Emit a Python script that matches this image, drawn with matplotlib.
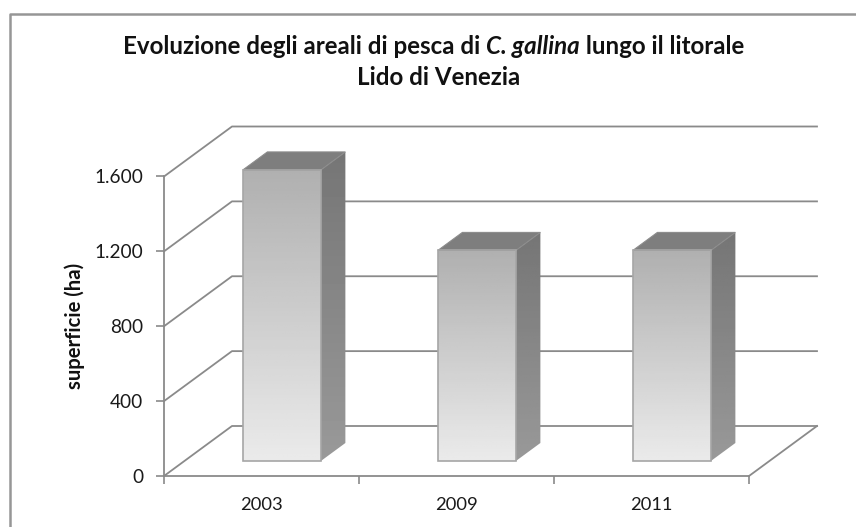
import numpy as np
import matplotlib
matplotlib.use('Agg')
import matplotlib.pyplot as plt
from matplotlib.patches import Polygon

plt.rcParams['font.family'] = ['Lato', 'DejaVu Sans']

years = ['2003', '2009', '2011']
superficie = [1555, 1125, 1125]
yticks = [0, 400, 800, 1200, 1600]
yticklabels = ['0', '400', '800', '1.200', '1.600']
ylabel = 'superficie (ha)'

W, H = 856, 527
grey = '#8a8a8a'

# oblique projection of the floor depth, in data units
depth_x = 68 / 195
depth_y = 50 / (299.5 / 1600)
bar_w = 0.4
bar_front = 0.30
bar_back = 0.66


def proj(x, v, d):
    return x + d * depth_x, v + d * depth_y


fig = plt.figure(figsize=(W / 100, H / 100), dpi=100)
ax = fig.add_axes([164 / W, (H - 476) / H, 585 / W, 299.5 / H])
ax.set_xlim(0, 3)
ax.set_ylim(0, 1600)
ax.patch.set_visible(False)

# outer chart frame (only left and top are inside the crop)
fig.add_artist(plt.Line2D([10 / W, 10 / W, 1], [0, 1 - 14 / H, 1 - 14 / H], color='#969696', lw=1.8))

for s in ['top', 'right']:
    ax.spines[s].set_visible(False)
for s in ['left', 'bottom']:
    ax.spines[s].set_color(grey)
    ax.spines[s].set_linewidth(1.3)

ax.set_yticks(yticks)
ax.set_yticklabels(yticklabels, fontsize=13.7, color='#1a1a1a')
ax.set_xticks([0, 1, 2, 3])
ax.set_xticklabels([])
ax.set_xticks(np.arange(len(years)) + 0.5, labels=years, minor=True, fontsize=13.2, color='#1a1a1a')
ax.tick_params(axis='both', which='major', length=5.5, width=1.2, color=grey)
ax.tick_params(axis='y', which='major', pad=9.5)
ax.tick_params(axis='x', which='minor', length=0, pad=15)
ax.set_ylabel(ylabel, fontsize=14.6, fontweight='bold', color='#111111')
ax.yaxis.set_label_coords(-0.135, 0.5)

# walls and floor
for v in yticks:
    bx, by = proj(0, v, 1)
    ex, ey = proj(3, v, 1)
    ax.plot([0, bx, ex], [v, by, ey], color=grey, lw=1.3, clip_on=False, zorder=1)
fx, fy = proj(3, 0, 1)
ax.plot([3, fx], [0, fy], color=grey, lw=1.3, clip_on=False, zorder=1)

# bars
for i, val in enumerate(superficie):
    x0 = i + 0.5 - bar_w / 2
    x1 = i + 0.5 + bar_w / 2
    a = proj(x0, 0, bar_front)
    b = proj(x1, 0, bar_front)
    c = proj(x1, val, bar_front)
    d = proj(x0, val, bar_front)
    e = proj(x1, 0, bar_back)
    f = proj(x1, val, bar_back)
    g = proj(x0, val, bar_back)

    grad = np.linspace(0.69, 0.92, 100).reshape(-1, 1)
    ax.imshow(grad, cmap='gray', vmin=0, vmax=1, aspect='auto', origin='upper',
              extent=(a[0], b[0], a[1], d[1]), zorder=3, clip_on=False)
    ax.add_patch(Polygon([a, b, c, d], closed=True, fill=False, ec='#a6a6a6', lw=1.2, zorder=4, clip_on=False))

    side = Polygon([b, e, f, c], closed=True, fc='none', ec='none', transform=ax.transData)
    ax.add_patch(side)
    side_grad = np.linspace(0.46, 0.60, 100).reshape(-1, 1)
    im = ax.imshow(side_grad, cmap='gray', vmin=0, vmax=1, aspect='auto', origin='upper',
                   extent=(b[0], e[0], b[1], f[1]), zorder=3)
    im.set_clip_box(fig.bbox)
    im.set_clip_path(side)

    ax.add_patch(Polygon([d, c, f, g], closed=True, fc='#7e7e7e', ec='#8c8c8c', lw=0.8, zorder=3, clip_on=False))

ax.set_xlim(0, 3)
ax.set_ylim(0, 1600)

# title, mixed bold / bold italic
parts = [('Evoluzione degli areali di pesca di ', 'normal'), ('C. gallina', 'italic'),
         (' lungo il litorale', 'normal')]
r = fig.canvas.get_renderer()
tsize = 17.4
xpos = 123.0
for p, st in parts:
    t = fig.text(xpos / W, 1 - 54 / H, p, fontsize=tsize, fontweight='bold', fontstyle=st, color='#111111',
                 va='baseline')
    xpos += t.get_window_extent(r).width
fig.text(439 / W, 1 - 85 / H, 'Lido di Venezia', fontsize=tsize, fontweight='bold', color='#111111',
         ha='center', va='baseline')

fig.savefig('out.png', dpi=100, facecolor='white')
